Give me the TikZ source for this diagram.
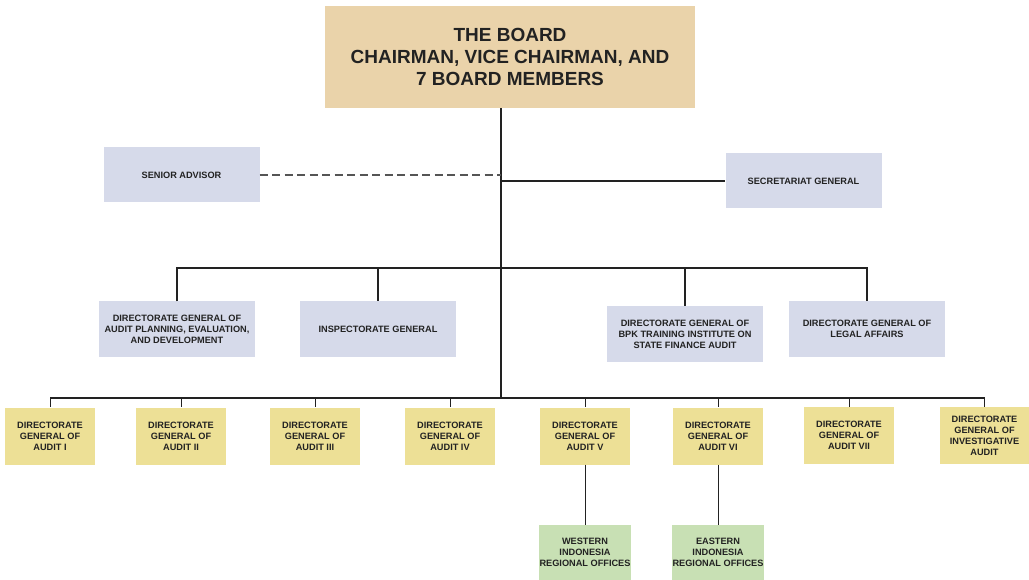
\documentclass[tikz,border=0pt]{standalone}
\usepackage{fontspec}
\setmainfont{Liberation Sans}
\usepackage{xcolor}
\usepackage{tikz}
\usetikzlibrary{positioning}

\definecolor{boardtan}{HTML}{EAD3AA}
\definecolor{staffblue}{HTML}{D6DAEA}
\definecolor{audityellow}{HTML}{EDE096}
\definecolor{regiongreen}{HTML}{C8E0B4}
\definecolor{inkgray}{HTML}{222222}
\definecolor{dashgray}{HTML}{555555}

\begin{document}
\begin{tikzpicture}[x=1pt,y=-1pt,
    unit/.style={align=center,text=inkgray,inner sep=1pt,
      font=\bfseries\fontsize{9.2}{11}\selectfont}]
        \useasboundingbox (0,0) rectangle (1029,580);
        \node[unit,fill=boardtan,minimum width=370,minimum height=102,
          font=\bfseries\fontsize{19}{22}\selectfont] (board) at (510,57)
          {THE BOARD\\CHAIRMAN, VICE CHAIRMAN, AND\\7 BOARD MEMBERS};
        \begin{scope}[every node/.style={unit,fill=staffblue,minimum width=156,minimum height=55}]
          \node (advisor) at (181.5,175) {SENIOR ADVISOR};
          \node (secretariat) at (803.5,181) {SECRETARIAT GENERAL};
          \node (planning) at (177,329) {DIRECTORATE GENERAL OF\\AUDIT PLANNING, EVALUATION,\\AND DEVELOPMENT};
          \node (inspect) at (378,329) {INSPECTORATE GENERAL};
          \node (training) at (685,334) {DIRECTORATE GENERAL OF\\BPK TRAINING INSTITUTE ON\\STATE FINANCE AUDIT};
          \node (legal) at (867,329) {DIRECTORATE GENERAL OF\\LEGAL AFFAIRS};
        \end{scope}
        \begin{scope}[every node/.style={unit,fill=audityellow,minimum width=90,minimum height=57}]
          \node (auditI) at (50,436) {DIRECTORATE\\GENERAL OF\\AUDIT I};
          \node (auditII) at (181,436) {DIRECTORATE\\GENERAL OF\\AUDIT II};
          \node (auditIII) at (315,436) {DIRECTORATE\\GENERAL OF\\AUDIT III};
          \node (auditIV) at (450,436) {DIRECTORATE\\GENERAL OF\\AUDIT IV};
          \node (auditV) at (585,436) {DIRECTORATE\\GENERAL OF\\AUDIT V};
          \node (auditVI) at (718,436) {DIRECTORATE\\GENERAL OF\\AUDIT VI};
          \node (auditVII) at (849,435.5) {DIRECTORATE\\GENERAL OF\\AUDIT VII};
          \node (investig) at (984.5,435.5) {DIRECTORATE\\GENERAL OF\\INVESTIGATIVE\\AUDIT};
        \end{scope}
        \begin{scope}[every node/.style={unit,fill=regiongreen,minimum width=90,minimum height=55}]
          \node (western) at (585,552.5) {WESTERN\\INDONESIA\\REGIONAL OFFICES};
          \node (eastern) at (718,552.5) {EASTERN\\INDONESIA\\REGIONAL OFFICES};
        \end{scope}
        % trunk and bus bars
        \coordinate (bus1) at (501,268);
        \coordinate (bus2) at (501,398);
        \begin{scope}[every path/.style={draw=inkgray,line width=1.8pt}]
          \path (board.south -| bus2) -- (bus2);
          \path (advisor.east) edge[dashgray,dash pattern=on 8pt off 4.5pt] (advisor.east -| bus1);
          \path (secretariat.west -| bus1) -- (secretariat.west);
          \path (planning.north) -- (planning.north |- bus1) -- (legal.north |- bus1) -- (legal.north);
          \path (inspect.north |- bus1) -- (inspect.north);
          \path (training.north |- bus1) -- (training.north);
          \path (auditI.north |- bus2) -- (investig.north |- bus2);
        \end{scope}
        \begin{scope}[every edge/.style={draw=inkgray,line width=0.9pt}]
          \path (auditI.north |- bus2) edge (auditI.north);
          \path (auditII.north |- bus2) edge (auditII.north);
          \path (auditIII.north |- bus2) edge (auditIII.north);
          \path (auditIV.north |- bus2) edge (auditIV.north);
          \path (auditV.north |- bus2) edge (auditV.north);
          \path (auditVI.north |- bus2) edge (auditVI.north);
          \path (auditVII.north |- bus2) edge (auditVII.north);
          \path (investig.north |- bus2) edge (investig.north);
          \path (auditV.south) edge (western.north);
          \path (auditVI.south) edge (eastern.north);
        \end{scope}
      \end{tikzpicture}
\end{document}
